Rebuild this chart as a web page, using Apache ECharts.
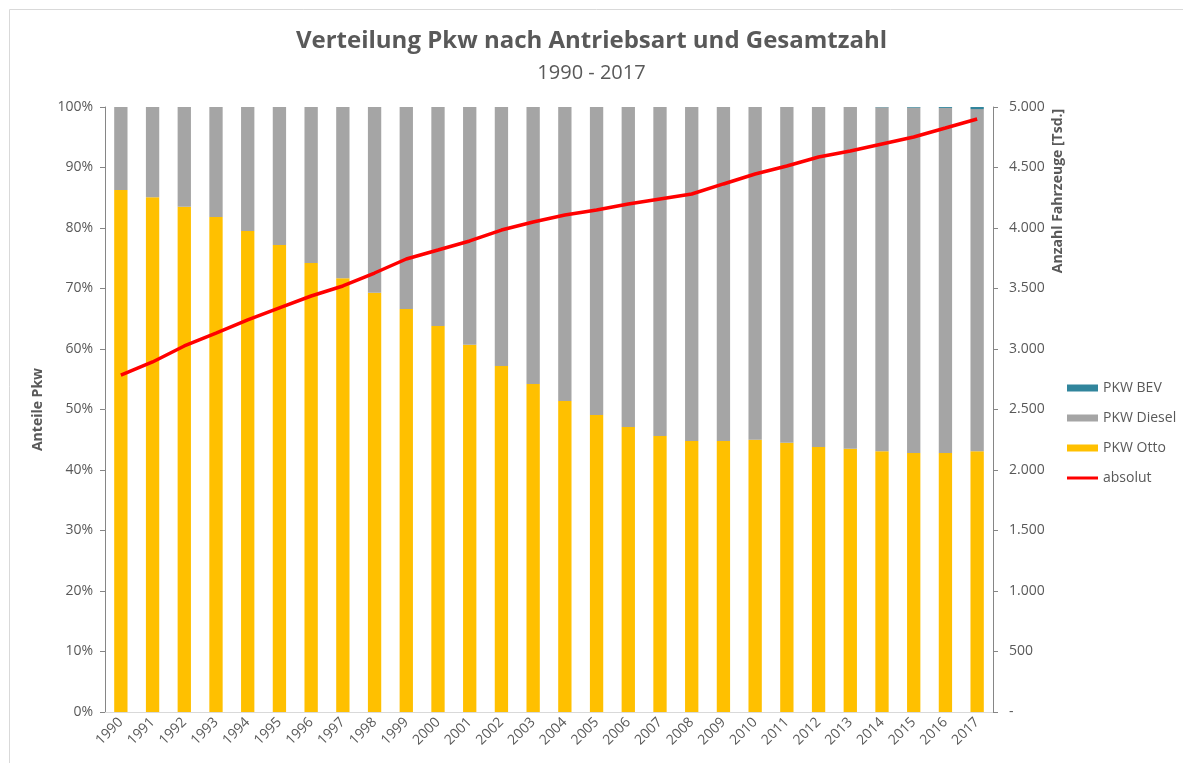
<!DOCTYPE html>
<html>
<head>
<meta charset="utf-8">
<script src="https://cdn.jsdelivr.net/npm/echarts@6/dist/echarts.min.js"></script>
<style>
  html, body { margin: 0; padding: 0; background: #fff; }
  #main { width: 1183px; height: 763px; }
</style>
</head>
<body>
<div id="main"></div>
<script>
var years = ['1990','1991','1992','1993','1994','1995','1996','1997','1998','1999','2000','2001','2002','2003','2004','2005','2006','2007','2008','2009','2010','2011','2012','2013','2014','2015','2016','2017'];

// Anteile in %
var otto = [86.3, 85.1, 83.5, 81.8, 79.5, 77.2, 74.2, 71.7, 69.3, 66.6, 63.8, 60.7, 57.2, 54.2, 51.4, 49.1, 47.1, 45.6, 44.8, 44.8, 45.0, 44.5, 43.8, 43.5, 43.1, 42.8, 42.8, 43.1];
var bev = [0, 0, 0, 0, 0, 0, 0, 0, 0, 0, 0, 0, 0, 0, 0, 0, 0, 0, 0, 0, 0, 0, 0, 0, 0.05, 0.1, 0.15, 0.35];
var diesel = otto.map(function (v, i) { return +(100 - v - bev[i]).toFixed(2); });

// Anzahl Fahrzeuge [Tsd.]
var absolut = [2785, 2893, 3025, 3132, 3240, 3339, 3438, 3521, 3628, 3744, 3818, 3893, 3983, 4050, 4107, 4149, 4198, 4240, 4281, 4364, 4446, 4512, 4587, 4636, 4694, 4752, 4826, 4901];

var txt = '#595959';
var chart = echarts.init(document.getElementById('main'));

chart.setOption({
  animation: false,
  textStyle: { fontFamily: 'Open Sans, Noto Sans, sans-serif' },
  title: [{
    text: 'Verteilung Pkw nach Antriebsart und Gesamtzahl',
    left: 'center', top: 24,
    textStyle: { fontSize: 24, fontWeight: 'bold', color: txt }
  }, {
    text: '1990 - 2017',
    left: 'center', top: 58,
    textStyle: { fontSize: 20, fontWeight: 'normal', color: txt }
  }],
  graphic: [{
    type: 'rect', silent: true,
    shape: { x: 9.5, y: 9.5, width: 1200, height: 800 },
    style: { fill: 'none', stroke: '#D9D9D9', lineWidth: 1 }
  }, {
    type: 'text', x: 1058, y: 191, rotation: Math.PI / 2,
    style: {
      text: 'Anzahl Fahrzeuge [Tsd.]', fill: txt,
      font: 'bold 14px Open Sans, Noto Sans, sans-serif',
      align: 'center', verticalAlign: 'middle'
    }
  }],
  legend: {
    orient: 'vertical', left: 1062, top: 376, itemGap: 16,
    itemWidth: 31, itemHeight: 7,
    textStyle: { fontSize: 14, color: txt },
    data: [
      { name: 'PKW BEV', icon: 'rect' },
      { name: 'PKW Diesel', icon: 'rect' },
      { name: 'PKW Otto', icon: 'rect' },
      { name: 'absolut', icon: 'path://M0,0 L31,0 L31,3 L0,3 Z', itemStyle: { color: '#FF0000' } }
    ]
  },
  grid: { left: 105, right: 190, top: 107, bottom: 51 },
  xAxis: {
    type: 'category', data: years,
    axisLine: { lineStyle: { color: '#D9D9D9', width: 1 } },
    axisTick: { show: false },
    axisLabel: { rotate: 45, color: txt, fontSize: 14, margin: 8, interval: 0 }
  },
  yAxis: [{
    type: 'value', min: 0, max: 100, interval: 10,
    name: 'Anteile Pkw', nameLocation: 'middle', nameGap: 60, nameRotate: 90,
    nameTextStyle: { color: txt, fontSize: 14, fontWeight: 'bold' },
    axisLine: { show: true, lineStyle: { color: '#868686' } },
    axisTick: { show: true, length: 5, lineStyle: { color: '#868686' } },
    axisLabel: { color: txt, fontSize: 14, margin: 12, formatter: '{value}%' },
    splitLine: { show: false }
  }, {
    type: 'value', min: 0, max: 5000, interval: 500, position: 'right',
    axisLine: { show: true, lineStyle: { color: '#868686' } },
    axisTick: { show: true, length: 5, lineStyle: { color: '#868686' } },
    axisLabel: {
      color: txt, fontSize: 14, margin: 16,
      formatter: function (v) {
        if (v === 0) return '-';
        return v >= 1000 ? Math.floor(v / 1000) + '.' + ('00' + (v % 1000)).slice(-3) : String(v);
      }
    },
    splitLine: { show: false }
  }],
  series: [{
    name: 'PKW Otto', type: 'bar', stack: 'anteil', barWidth: '42%',
    itemStyle: { color: '#FFC000' }, data: otto
  }, {
    name: 'PKW Diesel', type: 'bar', stack: 'anteil',
    itemStyle: { color: '#A5A5A5' }, data: diesel
  }, {
    name: 'PKW BEV', type: 'bar', stack: 'anteil',
    itemStyle: { color: '#31859C' }, data: bev
  }, {
    name: 'absolut', type: 'line', yAxisIndex: 1,
    symbol: 'none', smooth: false,
    lineStyle: { color: '#FF0000', width: 3.5 },
    itemStyle: { color: '#FF0000' },
    data: absolut
  }]
});
</script>
</body>
</html>
